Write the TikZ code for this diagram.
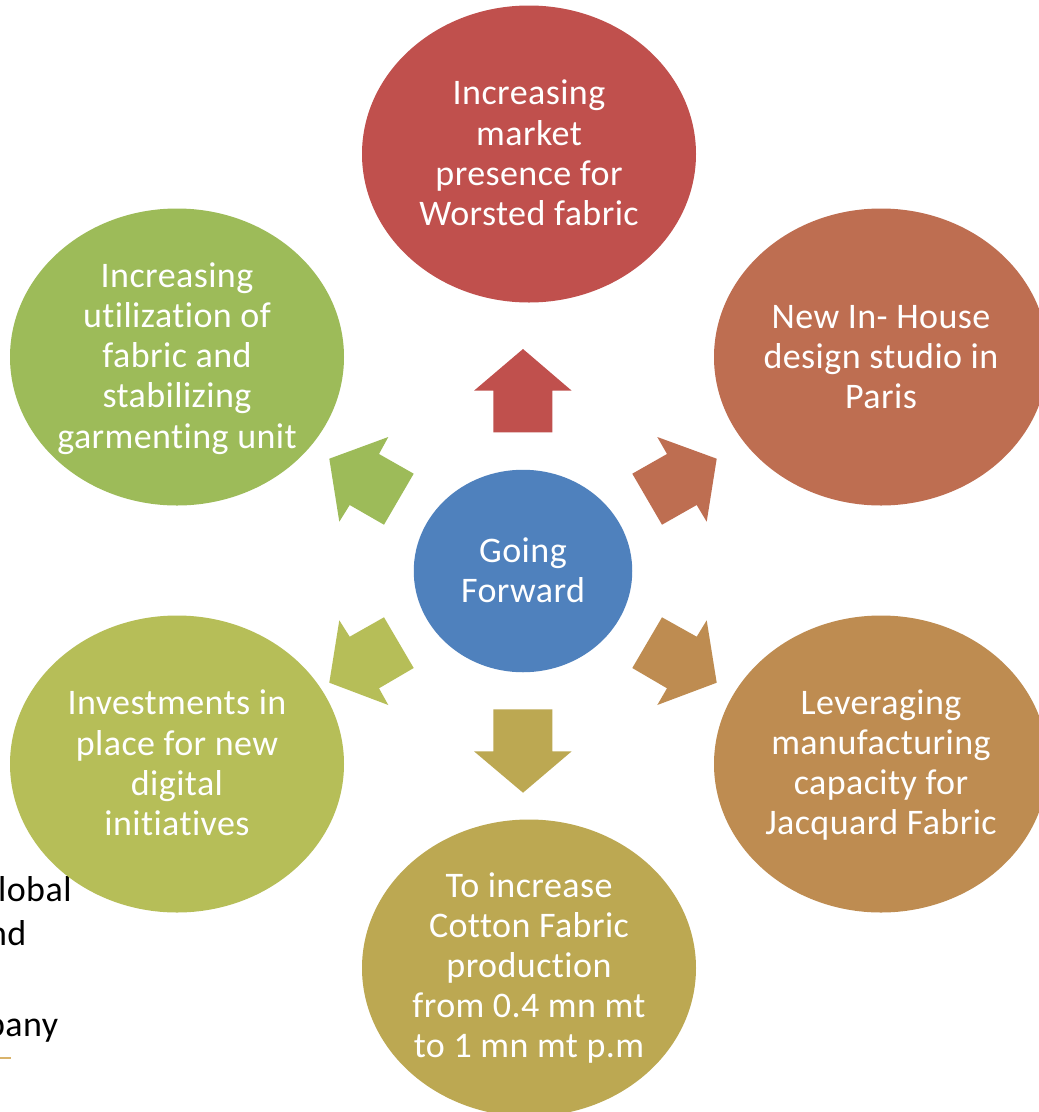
\documentclass[tikz,border=0pt]{standalone}
\usepackage{fontspec}
\setmainfont{Carlito}[Ligatures=NoCommon,LetterSpace=1.2]
\usetikzlibrary{shapes.geometric}
\definecolor{cCenter}{HTML}{4F81BD}
\definecolor{cTop}{HTML}{C0504D}
\definecolor{cRU}{HTML}{BE6E51}
\definecolor{cRD}{HTML}{BE8C51}
\definecolor{cBot}{HTML}{BCA852}
\definecolor{cLD}{HTML}{B6BE58}
\definecolor{cLU}{HTML}{9DBB59}
\definecolor{cGold}{HTML}{D9B36B}
\tikzset{
  bubble/.style={ellipse,inner sep=0pt,minimum width=334pt,minimum height=297pt},
  bubbletext/.style={inner sep=0pt,text=white,align=center,font=\fontsize{36}{40.2}\selectfont},
  backtext/.style={anchor=base west,inner sep=0pt,text=black,font=\fontsize{36}{38}\selectfont},
}
\begin{document}
\begin{tikzpicture}[x=1pt,y=-1pt]
\useasboundingbox (0,0) rectangle (1039,1112);
\clip (0,0) rectangle (1039,1112);
\fill[white] (0,0) rectangle (1039,1112);
% text of the slide behind the diagram
\node[backtext] (t1) at (-2,901) {lobal};
\node[backtext] (t2) at (-12,945) {nd};
\node[backtext] (t3) at (-14,1036) {pany};
\fill[cGold] (0,1057) rectangle (11,1059);
% bubbles
\node[bubble,fill=cLD] (ld) at (177,764) {};
\node[bubble,fill=cTop] (top) at (529,154) {};
\node[bubble,fill=cRU] (ru) at (881,357) {};
\node[bubble,fill=cRD] (rd) at (881,764) {};
\node[bubble,fill=cBot] (bot) at (529,968) {};
\node[bubble,fill=cLU] (lu) at (177,357) {};
\node[bubble,fill=cCenter,minimum width=218.5pt,minimum height=202.5pt] (c) at (523,571) {};
\node[bubbletext,yshift=1pt] (ldt) at (ld) {Investments in\\place for new\\digital\\initiatives};
\node[bubbletext,yshift=1pt] (topt) at (top) {Increasing\\market\\presence for\\Worsted fabric};
\node[bubbletext] (rut) at (ru) {New In- House\\design studio in\\Paris};
\node[bubbletext,yshift=-1pt] (rdt) at (rd) {Leveraging\\manufacturing\\capacity for\\Jacquard Fabric};
\node[bubbletext] (bott) at (bot) {To increase\\Cotton Fabric\\production\\from 0.4 mn mt\\to 1 mn mt p.m};
\node[bubbletext,yshift=-1.5pt] (lut) at (lu) {Increasing\\utilization of\\fabric and\\stabilizing\\garmenting unit};
\node[bubbletext,yshift=1pt] (ct) at (c) {Going\\Forward};
% block arrows
\fill[cTop] (523,349) -- (571.7,390.7) -- (552.3,390.7) -- (552.3,432.3) -- (493.3,432.3) -- (493.3,390.7) -- (474,390.7) -- cycle;
\fill[cBot] (523,792.7) -- (571.7,751.3) -- (552.3,751.3) -- (552.3,709.3) -- (493.3,709.3) -- (493.3,751.3) -- (474,751.3) -- cycle;
\fill[cRU] (716.7,458.7) -- (657.3,437) -- (667,454) -- (632.3,473.7) -- (662,524.7) -- (696.7,505) -- (706.7,521.7) -- cycle;
\fill[cRD] (716.7,682.7) -- (657.3,705) -- (667,688.3) -- (632.3,668) -- (662,617.3) -- (696.7,636.7) -- (706.7,620.3) -- cycle;
\fill[cLU] (329.3,458.7) -- (388.3,437) -- (379,454) -- (413.7,473.7) -- (384,524.7) -- (349.7,505) -- (339.3,521.7) -- cycle;
\fill[cLD] (329.3,682.7) -- (388.3,705) -- (379,688.3) -- (413.7,668) -- (384,617.3) -- (349.7,636.7) -- (339.3,620.3) -- cycle;
\end{tikzpicture}
\end{document}
